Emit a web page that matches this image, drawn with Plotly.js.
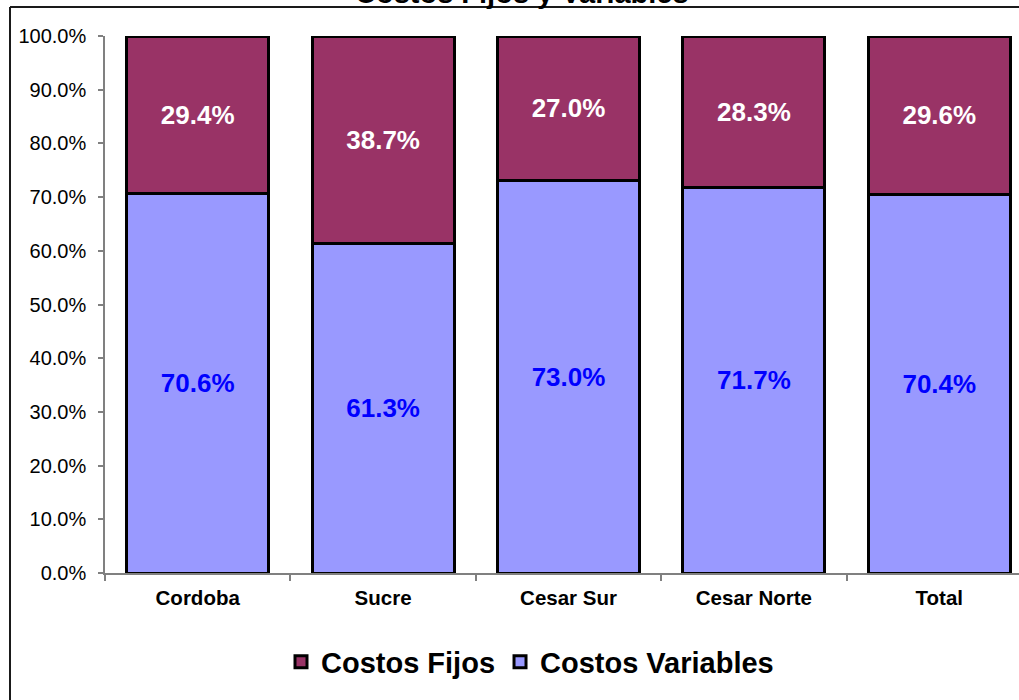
<!DOCTYPE html>
<html>
<head>
<meta charset="utf-8">
<script src="https://cdn.plot.ly/plotly-3.0.1.min.js"></script>
<style>
html, body { margin: 0; padding: 0; overflow: hidden; background: #fff; }
#chart { width: 1045px; height: 700px; }
</style>
</head>
<body>
<div id="chart"></div>
<script>
var categories = ['Cordoba', 'Sucre', 'Cesar Sur', 'Cesar Norte', 'Total'];
var costosVariables = [0.706, 0.613, 0.730, 0.717, 0.704];
var costosFijos = [0.294, 0.387, 0.270, 0.283, 0.296];
var titleText = 'Costos Fijos y Variables';

var FONT = 'Liberation Sans, Arial, Helvetica, sans-serif';

var traces = [
  {
    type: 'bar',
    name: 'Costos Variables',
    x: categories,
    y: costosVariables,
    marker: { color: '#9999FF', line: { color: '#000000', width: 3 } },
    texttemplate: '%{y:.1%}',
    textposition: 'inside',
    insidetextanchor: 'middle',
    textangle: 0,
    constraintext: 'none',
    textfont: { family: FONT, size: 26, color: '#0000FF', weight: 'bold' },
    hoverinfo: 'x+y+name'
  },
  {
    type: 'bar',
    name: 'Costos Fijos',
    x: categories,
    y: costosFijos,
    marker: { color: '#993366', line: { color: '#000000', width: 3 } },
    texttemplate: '%{y:.1%}',
    textposition: 'inside',
    insidetextanchor: 'middle',
    textangle: 0,
    constraintext: 'none',
    textfont: { family: FONT, size: 26, color: '#FFFFFF', weight: 'bold' },
    hoverinfo: 'x+y+name'
  }
];

// plot area: x 105..1032 px, y 36..573 px
var L = 105, T = 36, W = 927, H = 537;
function px(x) { return (x - L) / W; }
function py(y) { return 1 - (y - T) / H; }

var layout = {
  width: 1045,
  height: 700,
  margin: { l: L, r: 1045 - L - W, t: T, b: 700 - T - H, pad: 0 },
  paper_bgcolor: '#ffffff',
  plot_bgcolor: '#ffffff',
  barmode: 'stack',
  bargap: 0.234,
  font: { family: FONT, color: '#000000' },
  showlegend: true,
  legend: {
    orientation: 'h',
    x: px(281), xanchor: 'left',
    y: py(662), yanchor: 'middle',
    traceorder: 'reversed',
    font: { family: FONT, size: 29, color: '#000000', weight: 'bold' },
    itemclick: false,
    itemdoubleclick: false
  },
  xaxis: {
    type: 'category',
    showline: true,
    linecolor: '#808080',
    linewidth: 1.5,
    ticks: 'outside',
    tickson: 'boundaries',
    ticklen: 6,
    tickcolor: '#808080',
    tickwidth: 1.5,
    showgrid: false,
    zeroline: false,
    tickfont: { family: FONT, size: 20.5, color: '#000000', weight: 'bold' },
    ticklabelstandoff: 6
  },
  yaxis: {
    range: [0, 1],
    dtick: 0.1,
    tick0: 0,
    tickformat: '.1%',
    showline: true,
    linecolor: '#808080',
    linewidth: 1.5,
    ticks: 'outside',
    ticklen: 5,
    tickcolor: '#808080',
    tickwidth: 1.5,
    showgrid: false,
    zeroline: false,
    tickfont: { family: FONT, size: 20, color: '#000000' },
    ticklabelstandoff: 8
  },
  annotations: [
    {
      text: titleText,
      xref: 'paper', yref: 'paper',
      x: px(522), y: py(11),
      xanchor: 'center', yanchor: 'bottom',
      showarrow: false,
      font: { family: FONT, size: 29, color: '#000000', weight: 'bold' }
    }
  ],
  shapes: [
    { type: 'line', xref: 'paper', yref: 'paper', x0: px(10), x1: px(1045), y0: py(7), y1: py(7),
      line: { color: '#1a1a1a', width: 2 } },
    { type: 'line', xref: 'paper', yref: 'paper', x0: px(10), x1: px(10), y0: py(7), y1: py(705),
      line: { color: '#1a1a1a', width: 2 } }
  ]
};

Plotly.newPlot('chart', traces, layout, { displayModeBar: false, responsive: false });
</script>
</body>
</html>
